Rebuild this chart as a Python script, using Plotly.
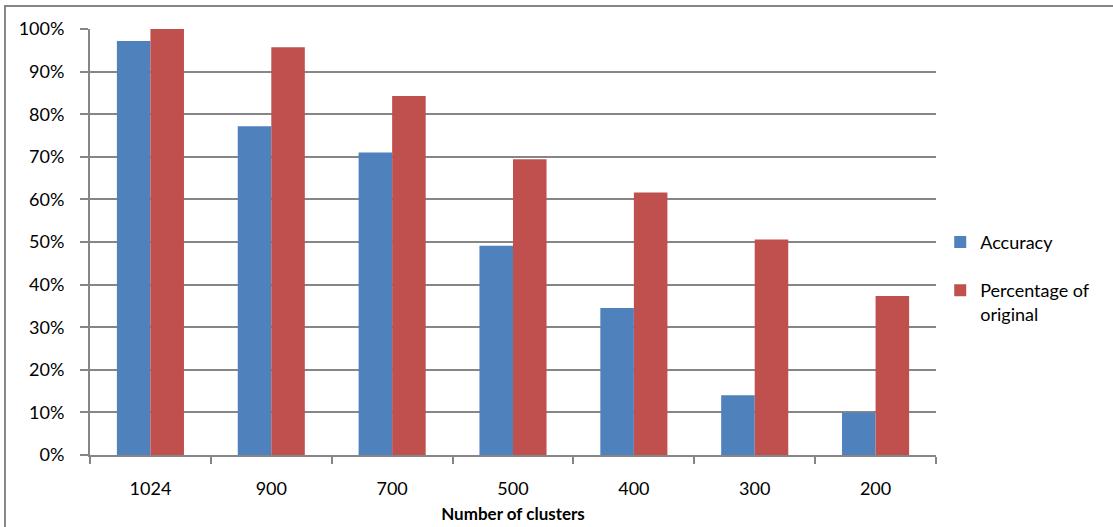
import plotly.graph_objects as go

# Cluster counts on the category axis
clusters = ["1024", "900", "700", "500", "400", "300", "200"]

# Series values (fractions of 1)
accuracy = [0.972, 0.772, 0.710, 0.491, 0.345, 0.140, 0.100]
pct_original = [1.000, 0.957, 0.843, 0.694, 0.616, 0.506, 0.373]

# Axis tick values and labels
y_ticks = [i / 10 for i in range(11)]
y_tick_labels = [f"{i * 10}%" for i in range(11)]

FONT = "Lato"
GRID = "#868686"

fig = go.Figure()
fig.add_trace(go.Bar(
    x=clusters, y=accuracy, name="Accuracy",
    marker=dict(color="#4F81BD", line=dict(width=0)),
    legendgroup="a",
))
fig.add_trace(go.Bar(
    x=clusters, y=pct_original, name="Percentage of<br>original",
    marker=dict(color="#C0504D", line=dict(width=0)),
    legendgroup="b",
))

fig.update_layout(
    width=1113, height=527,
    margin=dict(l=90, r=177, t=29, b=72),
    paper_bgcolor="white", plot_bgcolor="white",
    barmode="group", bargap=0.445, bargroupgap=0,
    font=dict(family=FONT, size=18, color="black"),
    showlegend=True,
    legend=dict(
        x=1.005, xanchor="left", y=0.415, yanchor="middle",
        font=dict(family=FONT, size=18, color="black"),
        tracegroupgap=22, valign="top",
        bgcolor="rgba(0,0,0,0)", borderwidth=0,
    ),
    xaxis=dict(
        type="category", automargin=False,
        showline=True, linecolor=GRID, linewidth=2,
        ticks="outside", ticklen=7, tickwidth=2, tickcolor=GRID,
        tickson="boundaries",
        ticklabelstandoff=16,
        showgrid=False,
        title=dict(text="<b>Number of clusters</b>", standoff=11,
                   font=dict(family=FONT, size=17)),
        tickfont=dict(family=FONT, size=18),
    ),
    yaxis=dict(
        range=[0, 1.0], tickvals=y_ticks, ticktext=y_tick_labels,
        automargin=False,
        showline=True, linecolor=GRID, linewidth=2,
        ticks="outside", ticklen=8, tickwidth=2, tickcolor=GRID,
        showgrid=True, gridcolor=GRID, gridwidth=2,
        zeroline=False,
        ticklabelstandoff=12,
        tickfont=dict(family=FONT, size=18),
    ),
    shapes=[dict(
        type="rect", xref="paper", yref="paper",
        x0=-0.1005, x1=1.5, y0=-0.5, y1=1.054,
        line=dict(color=GRID, width=2), fillcolor="rgba(0,0,0,0)",
        layer="below",
    )],
)

fig.write_html("out.html")
